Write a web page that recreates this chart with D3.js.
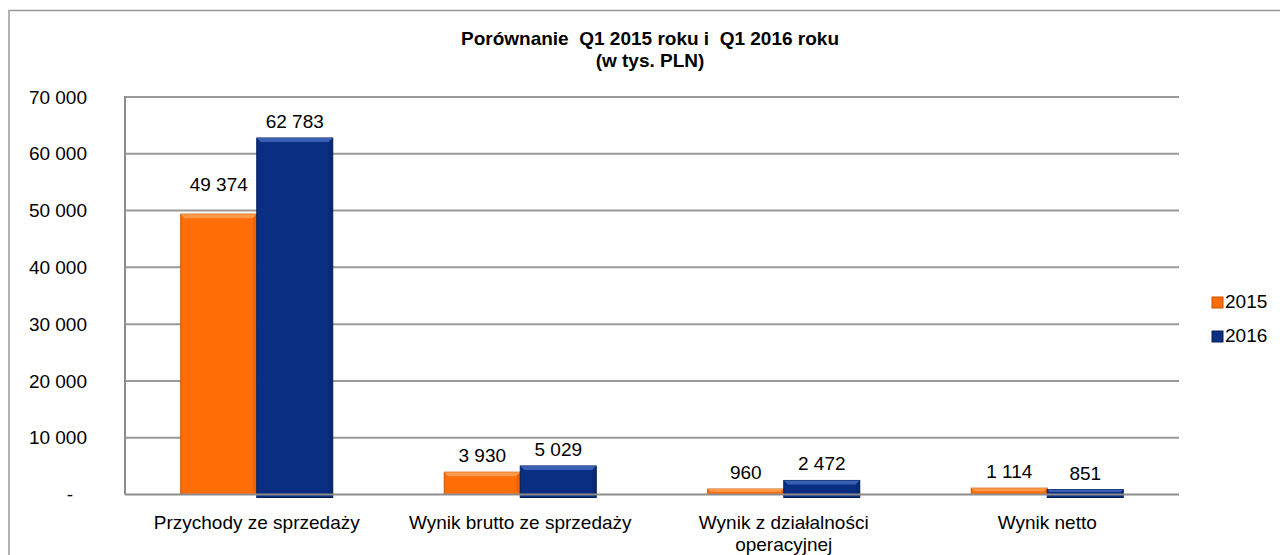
<!DOCTYPE html>
<html>
<head>
<meta charset="utf-8">
<script src="https://cdn.jsdelivr.net/npm/d3@7"></script>
<style>
  body { margin: 0; background: #fff; }
  svg { display: block; font-family: "Liberation Sans", Arial, sans-serif; }
</style>
</head>
<body>
<svg></svg>
<script>
let categories = ["Przychody ze sprzedaży", "Wynik brutto ze sprzedaży", "Wynik z działalności operacyjnej", "Wynik netto"];
let seriesNames = ["2015", "2016"];
let values2015 = [49374, 3930, 960, 1114];
let values2016 = [62783, 5029, 2472, 851];
let yTicks = [0, 10000, 20000, 30000, 40000, 50000, 60000, 70000];

let width = 1280;
let height = 555;
let plotLeft = 125, plotRight = 1179, plotTop = 97, plotBottom = 494.5;
let fontSize = 19;

let colors = { "2015": { fill: "#ff6d08", light: "#ff9a4a", dark: "#c95200" },
               "2016": { fill: "#0a2f82", light: "#3760b4", dark: "#061f5a" } };

let svg = d3.select("svg").attr("width", width).attr("height", height);

// outer frame
svg.append("rect")
   .attr("x", 9).attr("y", 10.5)
   .attr("width", 1300).attr("height", 600)
   .attr("fill", "none").attr("stroke", "#999").attr("stroke-width", 1.5);

// title
let title = svg.append("text")
   .attr("text-anchor", "middle")
   .attr("font-weight", "bold")
   .attr("font-size", 19)
   .style("white-space", "pre");
title.append("tspan").attr("x", 650).attr("y", 45).text("Porównanie  Q1 2015 roku i  Q1 2016 roku");
title.append("tspan").attr("x", 650).attr("y", 67).text("(w tys. PLN)");

let xScale = d3.scaleBand().domain(categories).range([plotLeft, plotRight]);
let yScale = d3.scaleLinear().domain([0, 70000]).range([plotBottom, plotTop]);

let fmt = (v) => v === 0 ? "-" : d3.format(",")(v).replace(/,/g, " ");

// gridlines
svg.append("g")
   .selectAll("line")
   .data(yTicks.filter(t => t > 0))
   .enter()
   .append("line")
   .attr("x1", plotLeft).attr("x2", plotRight)
   .attr("y1", d => yScale(d)).attr("y2", d => yScale(d))
   .attr("stroke", "#999").attr("stroke-width", 2);

// y axis
let yAxis = svg.append("g")
   .attr("transform", "translate(" + plotLeft + ",0)")
   .call(d3.axisLeft(yScale).tickValues(yTicks).tickSize(0).tickPadding(38).tickFormat(fmt));
yAxis.select(".domain").remove();
yAxis.selectAll("text").attr("font-size", fontSize).attr("fill", "#000")
     .attr("font-family", "Liberation Sans, Arial, sans-serif");
yAxis.selectAll(".tick").filter(d => d === 0).select("text").attr("dx", -14);

// plot area left edge
svg.append("line")
   .attr("x1", plotLeft).attr("x2", plotLeft).attr("y1", plotTop - 1).attr("y2", plotBottom)
   .attr("stroke", "#8c8c8c").attr("stroke-width", 2);

// bars
let barW = 76;
let rows = [];
categories.forEach((c, i) => {
    rows.push({ cat: c, s: "2015", v: values2015[i], k: 0 });
    rows.push({ cat: c, s: "2016", v: values2016[i], k: 1 });
});
let barX = d => xScale(d.cat) + xScale.bandwidth() / 2 + (d.k - 1) * barW;

let bars = svg.append("g").selectAll("g").data(rows).enter().append("g");
bars.append("rect")
    .attr("x", d => barX(d)).attr("y", d => yScale(d.v))
    .attr("width", barW).attr("height", d => plotBottom - yScale(d.v) + (d.k ? 3 : 0))
    .attr("fill", d => colors[d.s].fill)
    .attr("stroke", d => colors[d.s].dark).attr("stroke-width", 1);
// bevel: light top strip, soft dark right edge
let bev = 4;
bars.append("path")
    .attr("d", d => {
        let x0 = barX(d), x1 = x0 + barW, y0 = yScale(d.v);
        let b = Math.min(bev, (plotBottom - y0) / 2);
        return "M" + x0 + "," + y0 + "L" + x1 + "," + y0 + "L" + (x1 - b) + "," + (y0 + b) + "L" + (x0 + b) + "," + (y0 + b) + "Z";
    })
    .attr("fill", d => colors[d.s].light);
bars.append("path")
    .attr("d", d => {
        let x0 = barX(d), x1 = x0 + barW, y0 = yScale(d.v), y1 = plotBottom + (d.k ? 3 : 0);
        let b = Math.min(bev, (plotBottom - y0) / 2);
        return "M" + x1 + "," + y0 + "L" + x1 + "," + y1 + "L" + (x1 - b) + "," + (y1 - b) + "L" + (x1 - b) + "," + (y0 + b) + "Z";
    })
    .attr("fill", d => colors[d.s].dark).attr("opacity", 0.35);

// baseline
svg.append("line")
   .attr("x1", plotLeft).attr("x2", plotRight).attr("y1", plotBottom).attr("y2", plotBottom)
   .attr("stroke", "#8c8c8c").attr("stroke-width", 2);

// value labels
let firstLift = 13;
svg.append("g").selectAll("text").data(rows).enter().append("text")
   .attr("x", d => barX(d) + barW / 2)
   .attr("y", d => yScale(d.v) - 10 - (d.cat === categories[0] && d.k === 0 ? firstLift : 0))
   .attr("text-anchor", "middle")
   .attr("font-size", fontSize)
   .text(d => fmt(d.v));

// category labels
let xl = svg.append("g").selectAll("text").data(categories).enter().append("text")
   .attr("text-anchor", "middle")
   .attr("font-size", fontSize)
   .attr("y", 529);
xl.each(function (d) {
    let lines = d === "Wynik z działalności operacyjnej" ? ["Wynik z działalności", "operacyjnej"] : [d];
    let t = d3.select(this);
    lines.forEach((l, i) => {
        t.append("tspan").attr("x", xScale(d) + xScale.bandwidth() / 2).attr("dy", i ? 22 : 0).text(l);
    });
});

// legend
let legend = svg.append("g").selectAll("g").data(seriesNames).enter().append("g")
   .attr("transform", (d, i) => "translate(1212," + (297 + i * 34) + ")");
legend.append("rect")
   .attr("width", 11).attr("height", 11)
   .attr("fill", d => colors[d].fill).attr("stroke", d => colors[d].dark);
legend.append("text")
   .attr("x", 13).attr("y", 11)
   .attr("font-size", fontSize)
   .text(d => d);
</script>
</body>
</html>
